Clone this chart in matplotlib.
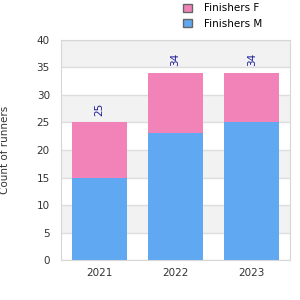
import numpy as np
import matplotlib.pyplot as plt
from matplotlib.patches import Patch

years = ['2021', '2022', '2023']
finishers_m = [15, 23, 25]
finishers_f = [10, 11, 9]

col_m = '#61a8f2'
col_f = '#f283b8'

fig = plt.figure(figsize=(3, 3), dpi=100)
ax = fig.add_axes([0.203, 0.133, 0.764, 0.734])

# banded background
for lo in range(0, 40, 5):
    if (lo // 5) % 2 == 1:
        ax.axhspan(lo, lo + 5, color='#f2f2f2', zorder=0, lw=0)
ax.set_yticks(range(0, 41, 5))
ax.yaxis.grid(True, color='#dddddd', lw=1, zorder=1)
ax.set_axisbelow(True)

x = np.arange(len(years))
totals = np.array(finishers_m) + np.array(finishers_f)
ax.bar(x, finishers_m, width=0.72, color=col_m, zorder=2)
ax.bar(x, finishers_f, width=0.72, bottom=finishers_m, color=col_f, zorder=2)

for xi, t in zip(x, totals):
    ax.text(xi, t + 1.2, str(t), rotation=90, ha='center', va='bottom',
            fontsize=7.5, color='#1a1a99')

ax.set_xlim(-0.5, 2.5)
ax.set_ylim(0, 40)
ax.set_xticks(x)
ax.set_xticklabels(years)
ax.tick_params(length=0, labelsize=7.5, colors='#333333', pad=6)
ax.tick_params(axis='y', pad=8)
for s in ax.spines.values():
    s.set_color('#d6d6d6')
ax.set_ylabel('Count of runners', fontsize=7.5, color='#333333', labelpad=19)

handles = [Patch(facecolor=col_f, edgecolor='#666666', label='Finishers F'),
           Patch(facecolor=col_m, edgecolor='#666666', label='Finishers M')]
fig.legend(handles=handles, loc='upper left', bbox_to_anchor=(0.58, 1.02),
           frameon=False, fontsize=7.5, handlelength=0.8, handleheight=0.8,
           labelspacing=0.5, handletextpad=1.2)

fig.savefig('out.png')
